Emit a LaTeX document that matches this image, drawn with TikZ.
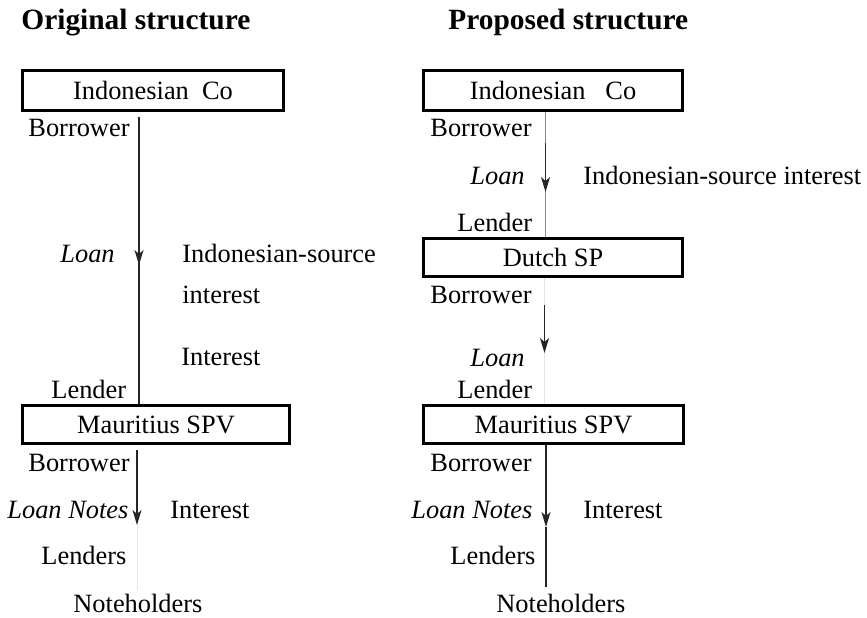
\documentclass[tikz,border=0pt]{standalone}
\usepackage{fontspec}
\setmainfont{Liberation Serif}
\usetikzlibrary{arrows.meta}
\begin{document}
\begin{tikzpicture}[x=0.5pt,y=-0.5pt,
  every node/.style={inner sep=0pt, font=\fontsize{13.2}{15}\selectfont},
  lbl/.style={anchor=base west},
  heading/.style={anchor=base west, font=\fontsize{14.7}{17}\selectfont\bfseries},
  entity/.style={draw, line width=1.5pt, minimum width=#1},
  flow/.style={line width=0.6pt, draw=black!85},
  tipped/.style={flow, -{Stealth[length=7.5pt,width=4.5pt,inset=2pt]}},
  pale/.style={line width=0.5pt, draw=black!45},
  faint/.style={line width=0.5pt, draw=black!10}]

\useasboundingbox (0,0) rectangle (867,617);

% headings
\node[heading] (hOrig) at (21,29) {Original structure};
\node[heading] (hProp) at (448,29) {Proposed structure};

% ---------- original structure ----------
\node[entity=130.25pt, minimum height=19.75pt] (L1) at (153,90.5) {Indonesian\ \ Co};
\node[entity=133.25pt, minimum height=19.25pt] (L2) at (156,424.5) {Mauritius SPV};

\coordinate (tipL1) at (139,265);
\coordinate (tipL2) at (137,525);
\coordinate (endL2) at (137,590);

\draw[flow, shorten <=2.5pt] (L1.south -| tipL1) -- (L2.north -| tipL1);
\draw[tipped, shorten <=2.5pt] (L1.south -| tipL1) -- (tipL1);
\draw[tipped, shorten <=2.5pt] (L2.south -| tipL2) -- (tipL2);
\draw[faint] (tipL2) -- (endL2);

\node[lbl] (lBor1) at (28,136) {Borrower};
\node[lbl] (lLoan) at (60,262) {\itshape Loan};
\node[lbl] (lSrc1) at (182,262) {Indonesian-source};
\node[lbl] (lSrc2) at (182,303) {interest};
\node[lbl] (lInt1) at (181,365) {Interest};
\node[lbl] (lLen1) at (51,398) {Lender};
\node[lbl] (lBor2) at (28,471) {Borrower};
\node[lbl] (lNotes) at (7,518) {\itshape Loan Notes};
\node[lbl] (lInt2) at (170,518) {Interest};
\node[lbl] (lLens) at (41,564) {Lenders};
\node[lbl] (lHold) at (73,612) {Noteholders};

% ---------- proposed structure ----------
\node[entity=129.25pt, minimum height=19.75pt] (R1) at (553,90.5) {Indonesian\ \ \ Co};
\node[entity=129.25pt, minimum height=18.75pt] (R2) at (553,257.5) {Dutch SP};
\node[entity=129.75pt, minimum height=19.25pt] (R3) at (553.5,424.5) {Mauritius SPV};

\coordinate (startR1) at (545.5,143);
\coordinate (tipR1) at (545.5,192);
\coordinate (startR2) at (544.5,305);
\coordinate (tipR2) at (544.5,353);
\coordinate (tipR3) at (546,527);
\coordinate (endR3) at (546,587);

\draw[pale] (R1.south -| tipR1) -- (R2.north -| tipR1);
\draw[tipped] (startR1) -- (tipR1);
\draw[faint] (R2.south -| tipR2) -- (R3.north -| tipR2);
\draw[tipped] (startR2) -- (tipR2);
\draw[tipped] (R3.south -| tipR3) -- (tipR3);
\draw[flow] (tipR3) -- (endR3);

\node[lbl] (rBor1) at (430,136) {Borrower};
\node[lbl] (rLoan1) at (470,184) {\itshape Loan};
\node[lbl] (rSrc) at (583,184) {Indonesian-source interest};
\node[lbl] (rLen1) at (457,231) {Lender};
\node[lbl] (rBor2) at (430,303) {Borrower};
\node[lbl] (rLoan2) at (470,366) {\itshape Loan};
\node[lbl] (rLen2) at (457,398) {Lender};
\node[lbl] (rBor3) at (430,471) {Borrower};
\node[lbl] (rNotes) at (411,518) {\itshape Loan Notes};
\node[lbl] (rInt) at (583,518) {Interest};
\node[lbl] (rLens) at (450,564) {Lenders};
\node[lbl] (rHold) at (496,612) {Noteholders};
\end{tikzpicture}
\end{document}
